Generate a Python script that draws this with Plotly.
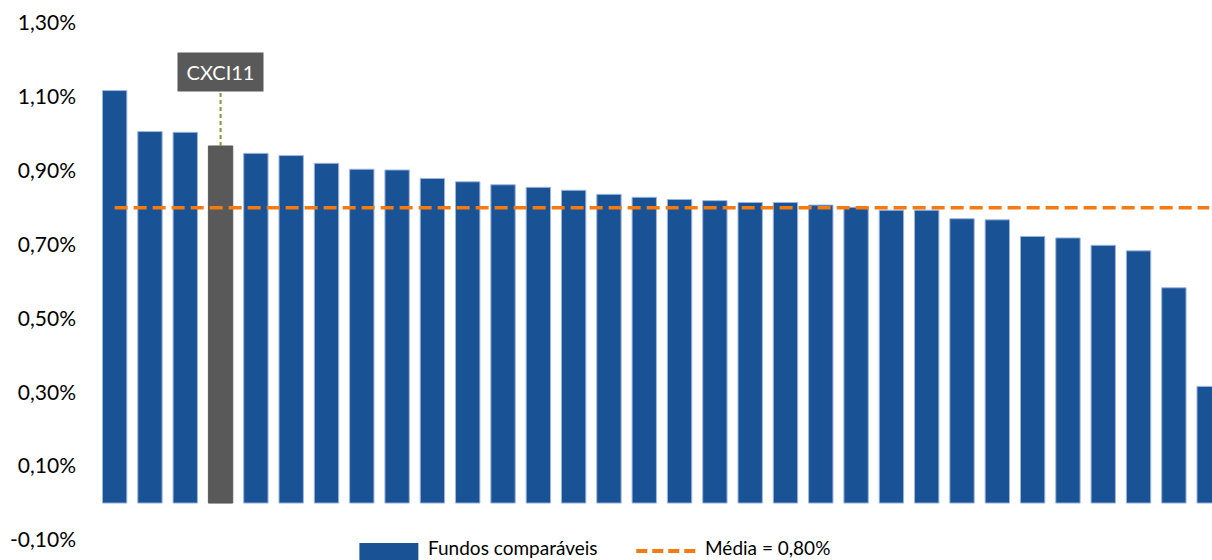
import plotly.graph_objects as go

# ---- data ----
fundos = [f"Fundo {i}" for i in range(1, 33)]
fundos[3] = "CXCI11"
valores = [1.117, 1.006, 1.004, 0.967, 0.947, 0.941, 0.920, 0.904, 0.902, 0.879,
           0.870, 0.862, 0.855, 0.847, 0.836, 0.828, 0.822, 0.819, 0.814, 0.814,
           0.807, 0.801, 0.793, 0.793, 0.770, 0.767, 0.722, 0.718, 0.698, 0.683,
           0.583, 0.316]
destaque = "CXCI11"
media = 0.80
tick_vals = [-0.10, 0.10, 0.30, 0.50, 0.70, 0.90, 1.10, 1.30]
tick_text = ["-0,10%", "0,10%", "0,30%", "0,50%", "0,70%", "0,90%", "1,10%", "1,30%"]
serie_nome = "Fundos comparáveis"
media_nome = "Média = " + f"{media:.2f}".replace(".", ",") + "%"

# ---- style ----
BLUE = "#1A5296"
GRAY = "#595959"
ORANGE = "#F37B12"
GREEN = "#7A9A3A"
FONT = "Lato"
W, H = 1212, 560
ML, MR, MT, MB = 96.5, 0, 23, 20

cores = [GRAY if f == destaque else BLUE for f in fundos]
bordas = [GRAY if f == destaque else "#9DB5E0" for f in fundos]

fig = go.Figure()
fig.add_trace(go.Bar(
    x=fundos, y=valores, name=serie_nome,
    marker=dict(color=cores, line=dict(color=bordas, width=1)),
    width=0.69, showlegend=False, hoverinfo="x+y",
))
fig.add_trace(go.Scatter(
    x=fundos, y=[media] * len(fundos), name=media_nome, mode="lines",
    line=dict(color=ORANGE, width=3.5, dash="13px,6px"), showlegend=False,
))

# helpers to place legend items (layout only)
pw = W - ML - MR
ph = H - MT - MB
def px_x(px):
    return (px - ML) / pw
def px_y(py):
    return (H - MB - py) / ph

shapes = [
    # connector from label to highlighted bar
    dict(type="line", xref="x", yref="y", x0=destaque, x1=destaque,
         ysizemode="pixel", yanchor=valores[fundos.index(destaque)], y0=0, y1=55,
         line=dict(color=GREEN, width=2, dash="4px,3px")),
    # legend swatches
    dict(type="rect", xref="paper", yref="paper", x0=px_x(359), x1=px_x(418),
         y0=px_y(562), y1=px_y(543), fillcolor=BLUE, line=dict(width=0)),
    dict(type="line", xref="paper", yref="paper", x0=px_x(636), x1=px_x(696),
         y0=px_y(551), y1=px_y(551), line=dict(color=ORANGE, width=4, dash="11px,5px")),
]

annotations = [
    dict(x=destaque, y=valores[fundos.index(destaque)], xref="x", yref="y",
         text=destaque, showarrow=False, yshift=74, bgcolor=GRAY,
         font=dict(color="white", size=20, family=FONT),
         width=77, height=30, borderpad=4, xanchor="center", yanchor="middle"),
    dict(x=px_x(426), y=px_y(547), xref="paper", yref="paper", text=serie_nome,
         showarrow=False, xanchor="left", yanchor="middle",
         font=dict(size=19, color="#000000", family=FONT)),
    dict(x=px_x(703), y=px_y(547), xref="paper", yref="paper", text=media_nome,
         showarrow=False, xanchor="left", yanchor="middle",
         font=dict(size=19, color="#000000", family=FONT)),
]

fig.update_layout(
    width=W, height=H,
    margin=dict(l=ML, r=MR, t=MT, b=MB, pad=0),
    paper_bgcolor="white", plot_bgcolor="white",
    font=dict(family=FONT, size=20, color="#000000"),
    shapes=shapes, annotations=annotations,
    showlegend=False,
    xaxis=dict(showticklabels=False, showgrid=False, zeroline=False, showline=False,
               range=[-0.5, 31.08], fixedrange=True),
    yaxis=dict(range=[-0.10, 1.30], tickvals=tick_vals, ticktext=tick_text,
               tickfont=dict(size=21, family=FONT),
               showgrid=False, zeroline=False, showline=False, ticks="",
               ticklabelstandoff=20, fixedrange=True),
)

fig.write_html("out.html")
